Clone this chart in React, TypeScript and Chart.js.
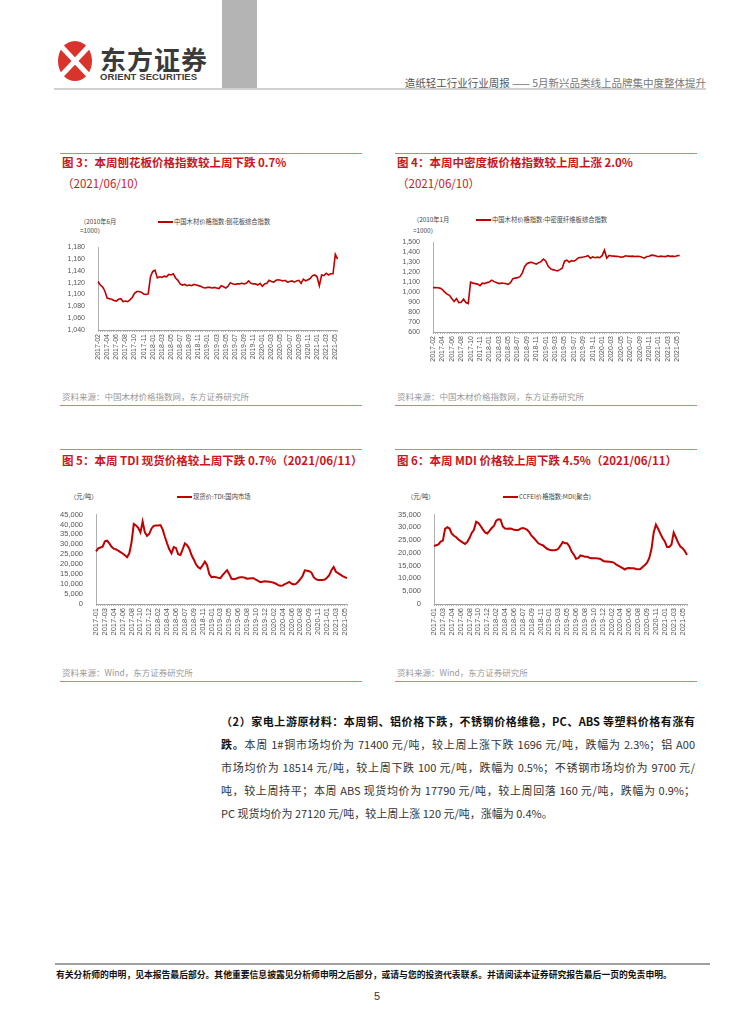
import React, { useEffect, useRef } from 'react';
import { Chart, registerables } from 'chart.js';

Chart.register(...registerables);

// ---------- data ----------
const woodTicks = ['2017-02','2017-04','2017-06','2017-08','2017-10','2017-11','2018-01','2018-03','2018-05','2018-07','2018-09','2018-11','2019-01','2019-03','2019-05','2019-07','2019-09','2019-11','2020-01','2020-03','2020-05','2020-07','2020-09','2020-11','2021-01','2021-03','2021-05'];
const chemTicks = ['2017-01','2017-03','2017-04','2017-06','2017-08','2017-10','2017-12','2018-02','2018-04','2018-06','2018-07','2018-09','2018-11','2019-01','2019-03','2019-05','2019-06','2019-08','2019-10','2019-12','2020-02','2020-04','2020-06','2020-08','2020-09','2020-11','2021-01','2021-03','2021-05'];

const particleboardIndex = [1122,1116,1113,1106,1094,1093,1092,1090,1089,1092,1093,1088,1089,1088,1091,1095,1102,1105,1105,1104,1101,1100,1101,1130,1139,1141,1128,1130,1129,1131,1130,1134,1133,1135,1128,1124,1118,1116,1117,1115,1116,1115,1117,1116,1115,1114,1112,1111,1112,1112,1111,1112,1111,1110,1115,1113,1111,1114,1120,1118,1117,1118,1118,1119,1118,1119,1123,1119,1118,1118,1116,1119,1114,1118,1119,1124,1122,1121,1124,1125,1124,1123,1124,1121,1122,1123,1121,1123,1124,1119,1126,1123,1125,1127,1132,1133,1130,1115,1133,1132,1136,1133,1135,1135,1168,1160];

const mdfIndex = [1045,1045,1043,1040,1025,1000,980,967,935,905,935,895,898,930,895,885,1100,1090,1085,1080,1065,1090,1085,1095,1102,1120,1105,1095,1085,1090,1088,1085,1078,1095,1135,1140,1145,1155,1190,1255,1285,1295,1298,1290,1280,1295,1305,1330,1312,1260,1235,1225,1218,1212,1225,1240,1310,1320,1300,1315,1310,1325,1345,1348,1352,1357,1364,1340,1352,1345,1350,1345,1365,1420,1340,1368,1362,1360,1358,1356,1350,1352,1364,1360,1358,1360,1356,1358,1356,1350,1340,1356,1360,1370,1368,1362,1355,1360,1357,1355,1365,1358,1360,1357,1365,1368];

const tdiPrice = [26500,28000,28400,28800,31500,31800,30500,28800,27800,27500,26800,26100,25400,24500,23500,25500,31000,40200,39500,38300,36000,41500,36000,34200,35300,38000,39300,39500,39500,39700,37500,33800,30500,27500,25500,28600,28200,25000,24600,27500,30500,29600,27800,24600,22400,20000,18500,17800,19500,21300,19500,15000,13500,13700,13500,13200,13000,14500,15800,17000,15000,12700,12500,12700,13200,13400,13500,13200,12700,12800,12900,12900,12200,11600,11000,11200,11400,11300,11200,11000,10700,10200,9500,9200,9300,10000,10500,11100,10300,9800,10100,11200,12500,14100,16900,16700,16500,15800,13500,12500,12100,12100,12100,12300,13200,14500,17000,18600,16200,15500,14800,14000,13500,13000];

const mdiPrice = [22600,23000,23300,24400,24800,29400,30000,29500,27500,26700,26100,25200,24600,24000,23500,24300,25800,27800,29000,32200,31700,30500,29200,28000,27600,28600,29700,30500,32600,33100,33000,30300,29500,29400,29500,29400,29000,28900,28900,29500,29750,29500,29000,28000,26600,25800,24800,23750,23300,23000,22250,21600,21200,21000,21000,21100,21600,22800,24200,23800,23800,22500,20500,19300,17700,17900,19000,18800,18500,18500,18100,17900,17900,17900,17800,17600,17000,16600,16600,16500,16400,16200,15500,15000,14500,14000,13500,14000,14100,14000,14000,13700,13600,13700,14500,15200,16200,18000,21500,28000,31000,29400,27500,25800,24500,22300,22300,23200,27900,26000,24000,22500,21800,20700,19200];

const TICK_EVERY = 4;
const LINE_RED = '#C00000';
const TITLE_RED = '#C8161D';
const RULE_RED = '#E07A7A';
const TICK_FONT = "'Liberation Sans', Arial, sans-serif";
const CJK = "'Noto Sans CJK SC', 'Liberation Sans', sans-serif";

type ChartProps = {
  left: number; top: number; width: number; height: number;
  values: number[]; ticks: string[]; label: string;
  yMin: number; yMax: number; step: number;
  yWidth: number; xHeight: number; padTop: number; padRight: number;
  fontSize: number; lineWidth: number;
};

function LineChart(p: ChartProps) {
  const ref = useRef<HTMLCanvasElement>(null);
  useEffect(() => {
    if (!ref.current) return;
    const labels = p.values.map((_, i) =>
      i % TICK_EVERY === 0 && p.ticks[i / TICK_EVERY] ? p.ticks[i / TICK_EVERY] : ''
    );
    const font = { size: p.fontSize, family: TICK_FONT };
    const chart = new Chart(ref.current, {
      type: 'line',
      data: {
        labels,
        datasets: [{
          label: p.label,
          data: p.values,
          borderColor: LINE_RED,
          borderWidth: p.lineWidth,
          pointRadius: 0,
          fill: false,
          tension: 0,
        }],
      },
      options: {
        animation: false,
        responsive: false,
        maintainAspectRatio: false,
        layout: { padding: { top: p.padTop, right: p.padRight, left: 0, bottom: 0 } },
        plugins: { legend: { display: false }, tooltip: { enabled: false } },
        scales: {
          x: {
            type: 'category',
            grid: { display: true, drawOnChartArea: false, drawTicks: true, tickLength: 2, color: '#8a8a8a', lineWidth: 0.6 },
            border: { display: true, color: '#8a8a8a', width: 0.8 },
            ticks: { autoSkip: false, minRotation: 90, maxRotation: 90, padding: 2, font, color: '#555' },
            afterFit: (s: any) => { s.height = p.xHeight; },
          },
          y: {
            min: p.yMin,
            max: p.yMax,
            grid: { display: false },
            border: { display: true, color: '#9a9a9a', width: 0.8 },
            ticks: {
              stepSize: p.step,
              autoSkip: false,
              padding: 5,
              font,
              color: '#555',
              callback: (v: any) => Number(v).toLocaleString('en-US'),
            },
            afterFit: (s: any) => { s.width = p.yWidth; },
          },
        },
      },
    });
    return () => chart.destroy();
  }, []);
  return (
    <canvas
      ref={ref}
      width={p.width}
      height={p.height}
      style={{ position: 'absolute', left: p.left, top: p.top, width: p.width, height: p.height }}
    />
  );
}

function Txt(props: { x: number; y: number; size: number; color?: string; bold?: boolean; children: any; style?: any }) {
  return (
    <div
      style={{
        position: 'absolute',
        left: props.x,
        top: props.y - props.size * 0.6,
        fontSize: props.size,
        lineHeight: `${props.size * 1.2}px`,
        color: props.color || '#333',
        fontWeight: props.bold ? 700 : 400,
        fontFamily: CJK,
        whiteSpace: 'nowrap',
        ...(props.style || {}),
      }}
    >
      {props.children}
    </div>
  );
}

function Rule(props: { x1: number; x2: number; y: number; color: string; h?: number }) {
  return (
    <div style={{ position: 'absolute', left: props.x1, top: props.y, width: props.x2 - props.x1, height: props.h || 1, background: props.color }} />
  );
}

function Legend(props: { x: number; y: number; text: string }) {
  return (
    <>
      <div style={{ position: 'absolute', left: props.x, top: props.y - 1, width: 15, height: 2, background: LINE_RED }} />
      <Txt x={props.x + 16} y={props.y} size={6.3} color="#444">{props.text}</Txt>
    </>
  );
}

export default function App() {
  const bodyLines = [
    { bold: '（2）家电上游原材料：本周铜、铝价格下跌，不锈钢价格维稳，PC、ABS 等塑料价格有涨有', rest: '' },
    { bold: '跌。', rest: '本周 1#铜市场均价为 71400 元/吨，较上周上涨下跌 1696 元/吨，跌幅为 2.3%；铝 A00' },
    { bold: '', rest: '市场均价为 18514 元/吨，较上周下跌 100 元/吨，跌幅为 0.5%；不锈钢市场均价为 9700 元/' },
    { bold: '', rest: '吨，较上周持平；本周 ABS 现货均价为 17790 元/吨，较上周回落 160 元/吨，跌幅为 0.9%；' },
    { bold: '', rest: 'PC 现货均价为 27120 元/吨，较上周上涨 120 元/吨，涨幅为 0.4%。' },
  ];
  const lineY = [721, 744, 767, 790, 813];

  return (
    <div style={{ position: 'absolute', left: 0, top: 0, width: 754, height: 1024, background: '#fff', overflow: 'hidden', fontFamily: CJK }}>
      {/* header */}
      <div style={{ position: 'absolute', left: 222, top: 0, width: 35, height: 88, background: '#b4b4b4' }} />
      <svg style={{ position: 'absolute', left: 55, top: 40 }} width={40} height={42} viewBox="0 0 40 42">
        <ellipse cx={20} cy={21} rx={17} ry={20} fill="#D9342B" />
        <line x1={3} y1={3} x2={37} y2={39} stroke="#fff" strokeWidth={5} />
        <line x1={37} y1={3} x2={3} y2={39} stroke="#fff" strokeWidth={5} />
      </svg>
      <Txt x={100} y={59} size={26} bold color="#3a3a3a" style={{ letterSpacing: 1 }}>东方证券</Txt>
      <Txt x={100} y={77} size={9.5} bold color="#3a3a3a" style={{ fontFamily: "'Liberation Sans', Arial, sans-serif", letterSpacing: 0.1 }}>ORIENT SECURITIES</Txt>
      <div style={{ position: 'absolute', right: 48, top: 76, fontSize: 10.5, lineHeight: '13px', fontFamily: CJK, whiteSpace: 'nowrap' }}>
        <span style={{ color: '#555' }}>造纸轻工行业行业周报</span>
        <span style={{ color: '#777' }}> —— 5月新兴品类线上品牌集中度整体提升</span>
      </div>
      <Rule x1={54} x2={706} y={88} color="#d0d0d0" h={1.5} />

      {/* chart 3 */}
      <Rule x1={60} x2={362} y={153} color={RULE_RED} />
      <Txt x={62} y={163} size={11.5} bold color={TITLE_RED}>图 3：本周刨花板价格指数较上周下跌 0.7%</Txt>
      <Txt x={62} y={184} size={11.5} color={TITLE_RED}>（2021/06/10）</Txt>
      <Txt x={80} y={222} size={6.3} color="#444">（2010年6月</Txt>
      <Txt x={80} y={231} size={6.3} color="#444">=1000）</Txt>
      <Legend x={158} y={222} text="中国木材价格指数:刨花板综合指数" />
      <LineChart left={56} top={238} width={292} height={130} values={particleboardIndex} ticks={woodTicks}
        label="中国木材价格指数:刨花板综合指数" yMin={1040} yMax={1180} step={20}
        yWidth={42} xHeight={38} padTop={6} padRight={7} fontSize={7} lineWidth={1.6} />
      <Txt x={62} y={396} size={8.5} color="#999">资料来源：中国木材价格指数网，东方证券研究所</Txt>
      <Rule x1={60} x2={362} y={405} color={RULE_RED} />

      {/* chart 4 */}
      <Rule x1={395} x2={697} y={153} color={RULE_RED} />
      <Txt x={397} y={163} size={11.5} bold color={TITLE_RED}>图 4：本周中密度板价格指数较上周上涨 2.0%</Txt>
      <Txt x={397} y={184} size={11.5} color={TITLE_RED}>（2021/06/10）</Txt>
      <Txt x={413} y={220} size={6.3} color="#444">（2010年1月</Txt>
      <Txt x={413} y={231} size={6.3} color="#444">=1000）</Txt>
      <Legend x={476} y={220} text="中国木材价格指数:中密度纤维板综合指数" />
      <LineChart left={390} top={233} width={300} height={135} values={mdfIndex} ticks={woodTicks}
        label="中国木材价格指数:中密度纤维板综合指数" yMin={600} yMax={1500} step={100}
        yWidth={43} xHeight={36} padTop={6} padRight={8} fontSize={7} lineWidth={1.6} />
      <Txt x={397} y={396} size={8.5} color="#999">资料来源：中国木材价格指数网，东方证券研究所</Txt>
      <Rule x1={395} x2={697} y={405} color={RULE_RED} />

      {/* chart 5 */}
      <Rule x1={60} x2={362} y={449} color={RULE_RED} />
      <Txt x={62} y={461} size={11.5} bold color={TITLE_RED}>图 5：本周 TDI 现货价格较上周下跌 0.7%（2021/06/11）</Txt>
      <Txt x={70} y={497} size={6.3} color="#444">（元/吨）</Txt>
      <Legend x={177} y={497} text="现货价:TDI:国内市场" />
      <LineChart left={54} top={505} width={304} height={138} values={tdiPrice} ticks={chemTicks}
        label="现货价:TDI:国内市场" yMin={0} yMax={45000} step={5000}
        yWidth={42} xHeight={39} padTop={6} padRight={8} fontSize={7.5} lineWidth={2} />
      <Txt x={62} y={672} size={8.5} color="#999">资料来源：Wind，东方证券研究所</Txt>
      <Rule x1={60} x2={362} y={681} color={RULE_RED} />

      {/* chart 6 */}
      <Rule x1={395} x2={697} y={449} color={RULE_RED} />
      <Txt x={397} y={461} size={11.5} bold color={TITLE_RED}>图 6：本周 MDI 价格较上周下跌 4.5%（2021/06/11）</Txt>
      <Txt x={407} y={497} size={6.3} color="#444">（元/吨）</Txt>
      <Legend x={503} y={497} text="CCFEI价格指数:MDI(聚合)" />
      <LineChart left={390} top={505} width={308} height={138} values={mdiPrice} ticks={chemTicks}
        label="CCFEI价格指数:MDI(聚合)" yMin={0} yMax={35000} step={5000}
        yWidth={44} xHeight={39} padTop={6} padRight={9} fontSize={7.5} lineWidth={2} />
      <Txt x={397} y={672} size={8.5} color="#999">资料来源：Wind，东方证券研究所</Txt>
      <Rule x1={395} x2={697} y={681} color={RULE_RED} />

      {/* body text */}
      {bodyLines.map((l, i) => (
        <div key={i} style={{
          position: 'absolute', left: 221, top: lineY[i] - 7, width: 474,
          fontSize: 11, lineHeight: '14px', color: '#333', fontFamily: CJK,
          textAlign: i < 4 ? 'justify' : 'left', textAlignLast: i < 4 ? 'justify' : 'left',
        } as any}>
          {l.bold ? <b style={{ color: '#111' }}>{l.bold}</b> : null}
          {l.rest}
        </div>
      ))}

      {/* footer */}
      <Rule x1={55} x2={710} y={963} color="#a0a0a0" h={1.5} />
      <Txt x={56} y={975} size={8.8} bold color="#111">有关分析师的申明，见本报告最后部分。其他重要信息披露见分析师申明之后部分，或请与您的投资代表联系。并请阅读本证券研究报告最后一页的免责申明。</Txt>
      <Txt x={374} y={997} size={11} color="#333" style={{ fontFamily: "'Liberation Sans', Arial, sans-serif" }}>5</Txt>
    </div>
  );
}
